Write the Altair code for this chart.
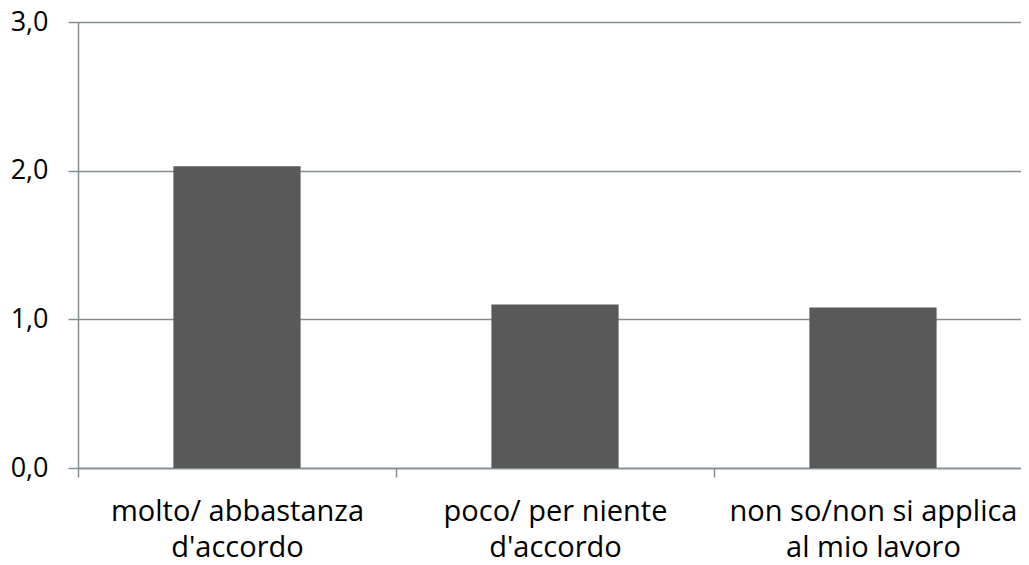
import altair as alt
import pandas as pd

categories = ["molto/ abbastanza|d'accordo", "poco/ per niente|d'accordo", "non so/non si applica|al mio lavoro"]
values = [2.03, 1.10, 1.08]
y_ticks = [0, 1, 2, 3]

df = pd.DataFrame({"cat": categories, "val": values})

grid_col = "#848d91"
font = "Open Sans"

chart = alt.Chart(df).mark_bar(color="#595959", width=alt.RelativeBandSize(0.4)).encode(
    x=alt.X(
        "cat:N",
        sort=categories,
        scale=alt.Scale(paddingInner=0, paddingOuter=0, range=[0, 954]),
        axis=alt.Axis(
            title=None,
            labelAngle=0,
            tickBand="extent",
            ticks=True,
            tickSize=9,
            tickWidth=1.5,
            tickColor=grid_col,
            domainColor=grid_col,
            domainWidth=1.5,
            labelExpr="split(datum.label, '|')",
            labelFont=font,
            labelFontSize=29,
            labelColor="#000000",
            labelLineHeight=36,
            labelPadding=20,
            labelBaseline="top",
            labelLimit=0,
        ),
    ),
    y=alt.Y(
        "val:Q",
        scale=alt.Scale(domain=[0, 3], nice=False),
        axis=alt.Axis(
            title=None,
            values=y_ticks,
            labelExpr="replace(format(datum.value, '.1f'), '.', ',')",
            grid=True,
            gridColor=grid_col,
            gridWidth=1.5,
            domainColor=grid_col,
            domainWidth=1.5,
            tickColor=grid_col,
            tickWidth=1.5,
            tickSize=10,
            labelPadding=20,
            labelFont=font,
            labelFontSize=27,
            labelColor="#000000",
        ),
    ),
).properties(
    width=943,
    height=446,
    autosize=alt.AutoSizeParams(type="none"),
    padding={"left": 70, "top": 14, "right": 0, "bottom": 95},
).configure_view(stroke=None).configure(background="white")

chart.save("out.html", embed_options={"renderer": "svg", "actions": False})
